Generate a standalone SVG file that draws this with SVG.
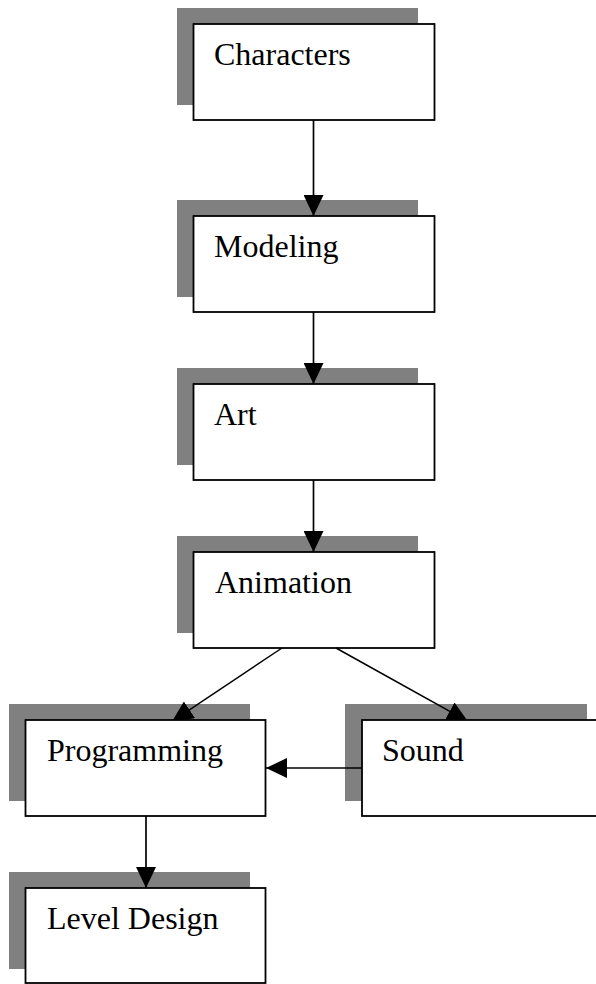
<svg xmlns="http://www.w3.org/2000/svg" width="596" height="984" viewBox="0 0 596 984">
<style>
.shadow{fill:#808080;stroke:none}
.box{fill:#ffffff;stroke:#000000;stroke-width:1.8}
.label{font-family:"Liberation Serif","Times New Roman",serif;font-size:32px;fill:#000000}
.conn{stroke:#000000;stroke-width:1.7;fill:none;marker-end:url(#arrow)}
.diag{stroke-width:1.5}
</style>
<defs>
<marker id="arrow" markerUnits="userSpaceOnUse" markerWidth="21" markerHeight="20" refX="21" refY="10" orient="auto" viewBox="0 0 21 20">
<path d="M0,0 L21,10 L0,20 Z" fill="#000000"/>
</marker>
<clipPath id="aboveRow">
<rect x="0" y="0" width="596" height="720"/>
</clipPath>
</defs>
<g id="node-characters">
<rect class="shadow" x="177" y="8" width="241" height="97"/>
<rect class="box" x="193.5" y="24" width="241" height="96"/>
<text class="label" x="214" y="65">Characters</text>
</g>
<g id="node-modeling">
<rect class="shadow" x="177" y="200" width="241" height="97"/>
<rect class="box" x="193.5" y="216" width="241" height="96"/>
<text class="label" x="214" y="257">Modeling</text>
</g>
<g id="node-art">
<rect class="shadow" x="177" y="368" width="241" height="97"/>
<rect class="box" x="193.5" y="384" width="241" height="96"/>
<text class="label" x="214" y="425">Art</text>
</g>
<g id="node-animation">
<rect class="shadow" x="177" y="536" width="241" height="97"/>
<rect class="box" x="193.5" y="552" width="241" height="96"/>
<text class="label" x="215" y="593">Animation</text>
</g>
<g id="node-programming">
<rect class="shadow" x="9" y="704" width="241" height="97"/>
<rect class="box" x="25.5" y="720" width="240" height="96"/>
<text class="label" x="47" y="761">Programming</text>
</g>
<g id="node-sound">
<rect class="shadow" x="345" y="704" width="242" height="97"/>
<rect class="box" x="362" y="720" width="240" height="96"/>
<text class="label" x="382" y="761">Sound</text>
</g>
<g id="node-level-design">
<rect class="shadow" x="9" y="872" width="241" height="97"/>
<rect class="box" x="25.5" y="888" width="240" height="95"/>
<text class="label" x="47" y="929">Level Design</text>
</g>
<g id="connectors">
<line class="conn" x1="313.5" y1="120" x2="313.5" y2="216"/>
<line class="conn" x1="313.5" y1="312" x2="313.5" y2="384"/>
<line class="conn" x1="313.5" y1="480" x2="313.5" y2="552"/>
<line class="conn diag" x1="282" y1="648" x2="172" y2="721.5" clip-path="url(#aboveRow)"/>
<line class="conn diag" x1="336" y1="648" x2="468" y2="721.5" clip-path="url(#aboveRow)"/>
<line class="conn" x1="362" y1="768" x2="266" y2="768"/>
<line class="conn" x1="146" y1="816" x2="146" y2="888"/>
</g>
</svg>
